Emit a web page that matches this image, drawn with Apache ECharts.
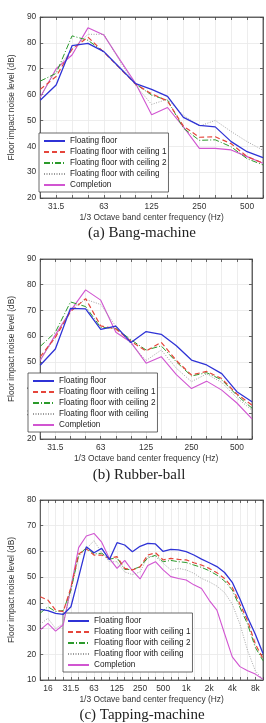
<!DOCTYPE html>
<html>
<head>
<meta charset="utf-8">
<script src="https://cdn.jsdelivr.net/npm/echarts@6/dist/echarts.min.js"></script>
<style>
html,body{margin:0;padding:0;background:#fff}
#chart{width:266px;height:723px}
</style>
</head>
<body>
<div id="chart"></div>
<script>
// 1/3 octave band centres
const bandsAB = ['25','31.5','40','50','63','80','100','125','160','200','250','315','400','500','630'];
const bandsC = ['12.5','16','20','25','31.5','40','50','63','80','100','125','160','200','250','315','400',
  '500','630','800','1k','1.25k','1.6k','2k','2.5k','3.15k','4k','5k','6.3k','8k','10k'];
const labelsAB = ['31.5','63','125','250','500'];
const labelsC = ['16','31.5','63','125','250','500','1k','2k','4k','8k'];
const names = ['Floating floor','Floating floor with ceiling 1','Floating floor with ceiling 2','Floating floor with ceiling','Completion'];
const captions = ['(a) Bang-machine','(b) Rubber-ball','(c) Tapping-machine'];

// (a) Bang-machine
const aFloor = [57.8, 63.7, 78.9, 79.8, 76.6, 70.4, 64.2, 62.0, 59.3, 51.2, 48.1, 47.5, 41.8, 37.9, 35.6];
const aCeil1 = [62.0, 67.0, 77.5, 82.2, 76.4, 70.2, 64.0, 60.3, 57.5, 47.8, 43.5, 43.7, 41.0, 36.0, 33.5];
const aCeil2 = [65.2, 68.2, 82.7, 81.0, 76.5, 70.3, 64.1, 59.8, 57.8, 47.0, 42.3, 42.5, 39.8, 35.2, 32.8];
const aCeil  = [59.0, 69.5, 77.5, 83.3, 83.3, 73.0, 63.5, 56.2, 58.2, 52.0, 47.8, 50.0, 45.7, 41.8, 38.5];
const aComp  = [59.0, 70.0, 75.3, 85.8, 83.0, 73.5, 64.3, 52.2, 55.0, 47.5, 39.2, 39.2, 38.6, 36.0, 33.4];

// (b) Rubber-ball
const bFloor = [48.7, 55.0, 70.8, 70.6, 62.6, 63.9, 57.5, 61.8, 60.7, 56.3, 50.7, 48.8, 45.4, 38.4, 34.5];
const bCeil1 = [52.0, 59.5, 69.5, 74.6, 64.0, 62.8, 58.0, 54.2, 57.6, 50.5, 44.9, 46.3, 43.5, 37.5, 33.2];
const bCeil2 = [56.0, 61.5, 73.3, 71.5, 63.4, 63.0, 58.6, 54.6, 56.2, 50.0, 44.5, 45.8, 43.0, 37.0, 32.0];
const bCeil  = [51.0, 59.5, 70.5, 74.3, 72.3, 63.8, 57.0, 50.5, 54.6, 47.5, 42.3, 45.3, 42.0, 36.0, 31.2];
const bComp  = [50.5, 60.5, 69.8, 78.0, 74.0, 61.5, 57.6, 49.5, 52.0, 45.0, 39.6, 42.5, 39.0, 34.0, 27.8];

// (c) Tapping-machine
const cFloor = [37.5, 37.0, 35.9, 35.5, 38.5, 50.0, 61.8, 59.5, 61.2, 56.8, 63.4, 62.5, 59.9, 62.0, 63.1,
  62.9, 60.0, 60.8, 60.6, 59.9, 58.6, 57.0, 55.6, 54.1, 51.8, 48.0, 41.5, 34.3, 27.8, 20.3];
const cCeil1 = [42.4, 41.1, 37.2, 36.6, 46.0, 59.0, 61.0, 58.6, 58.6, 57.3, 58.0, 53.4, 52.8, 54.0, 58.6,
  59.5, 56.7, 57.3, 56.9, 56.7, 55.6, 54.7, 53.4, 51.7, 49.5, 46.0, 39.5, 33.0, 24.0, 18.3];
const cCeil2 = [36.0, 38.5, 36.6, 37.0, 45.0, 58.5, 61.5, 59.0, 59.3, 57.0, 57.5, 53.0, 53.0, 54.0, 57.5,
  58.5, 56.0, 56.5, 56.0, 55.7, 54.7, 53.8, 52.5, 50.8, 48.5, 45.0, 38.2, 31.7, 22.7, 17.5];
const cCeil  = [31.7, 34.0, 30.0, 32.0, 45.0, 58.0, 61.0, 64.2, 59.5, 56.0, 56.0, 52.0, 51.0, 52.0, 58.0,
  58.0, 55.4, 52.8, 53.4, 52.8, 51.5, 49.5, 48.2, 46.5, 44.0, 39.5, 31.7, 21.4, 13.6, 10.0];
const cComp  = [29.5, 32.0, 29.0, 31.5, 46.0, 61.5, 66.0, 67.0, 63.6, 57.3, 53.4, 56.5, 52.5, 49.3, 54.5,
  56.0, 52.8, 50.2, 49.5, 48.9, 47.0, 45.6, 41.0, 37.2, 28.0, 19.0, 15.2, 13.6, 12.3, 10.3];

const styles = [
  {color:'#2f33d6', width:1.3, type:'solid'},
  {color:'#e5453b', width:1.2, type:[5,3]},
  {color:'#2b9a2b', width:1, type:[6,2,1,2]},
  {color:'#9a9a9a', width:0.9, type:[1,1.5]},
  {color:'#d155d1', width:1.1, type:'solid'}
];

const panels = [
  {grid:{left:33, top:17, width:230, height:181}, cats:bandsAB, shown:labelsAB, min:20, max:90,
   data:[aFloor,aCeil1,aCeil2,aCeil,aComp], legend:{left:39, top:133}, cap:[142,233], nameGap:16},
  {grid:{left:22, top:259, width:230, height:180}, cats:bandsAB, shown:labelsAB, min:20, max:90,
   data:[bFloor,bCeil1,bCeil2,bCeil,bComp], legend:{left:28, top:373}, cap:[139,475], nameGap:14},
  {grid:{left:33, top:500, width:230, height:180}, cats:bandsC, shown:labelsC, min:10, max:80,
   data:[cFloor,cCeil1,cCeil2,cCeil,cComp], legend:{left:63, top:613}, cap:[142,715], nameGap:16}
];

const font = 'Liberation Sans';
const axisCol = '#444';
const grids = [], xAxes = [], yAxes = [], series = [], legends = [], graphics = [];

panels.forEach((p, k) => {
  grids.push(Object.assign({show:true, borderColor:axisCol, borderWidth:0.8}, p.grid));
  const tick = {show:true, inside:true, length:3, interval:0, lineStyle:{color:axisCol, width:0.8}};
  xAxes.push({
    gridIndex:k, type:'category', data:p.cats, boundaryGap:false,
    name:'1/3 Octave band center frequency (Hz)', nameLocation:'middle', nameGap:16,
    nameTextStyle:{fontSize:8.4, fontFamily:font, color:'#333'},
    axisLine:{lineStyle:{color:axisCol, width:0.8}},
    axisTick:tick,
    axisLabel:{fontSize:8.4, fontFamily:font, color:'#333', margin:5,
      interval:(i, v) => p.shown.includes(v)},
    splitLine:{show:true, interval:0, lineStyle:{color:'#e8e8e8', width:0.8}}
  });
  xAxes.push({
    gridIndex:k, type:'category', data:p.cats, boundaryGap:false, position:'top',
    axisLine:{lineStyle:{color:axisCol, width:0.8}}, axisTick:tick,
    axisLabel:{show:false}, splitLine:{show:false}
  });
  yAxes.push({
    gridIndex:k, type:'value', min:p.min, max:p.max, interval:10,
    name:'Floor impact noise level (dB)', nameLocation:'middle', nameGap:p.nameGap,
    nameTextStyle:{fontSize:8.4, fontFamily:font, color:'#333'},
    axisLine:{show:true, lineStyle:{color:axisCol, width:0.8}},
    axisTick:{show:true, inside:true, length:3, lineStyle:{color:axisCol, width:0.8}},
    axisLabel:{fontSize:8.4, fontFamily:font, color:'#333', margin:4},
    splitLine:{show:true, lineStyle:{color:'#e8e8e8', width:0.8}}
  });
  yAxes.push({
    gridIndex:k, type:'value', min:p.min, max:p.max, interval:10, position:'right',
    axisLine:{show:true, lineStyle:{color:axisCol, width:0.8}},
    axisTick:{show:true, inside:true, length:3, lineStyle:{color:axisCol, width:0.8}},
    axisLabel:{show:false}, splitLine:{show:false}
  });
  p.data.forEach((d, j) => {
    series.push({
      name:names[j], type:'line', xAxisIndex:2*k, yAxisIndex:2*k, data:d,
      symbol:'none', animation:false, z:10 - j,
      lineStyle:{color:styles[j].color, width:styles[j].width, type:styles[j].type},
      itemStyle:{color:styles[j].color}
    });
  });
  legends.push({
    orient:'vertical', left:p.legend.left, top:p.legend.top, data:names,
    itemWidth:21, itemHeight:8, itemGap:1, padding:[3,2,2,4],
    borderColor:axisCol, borderWidth:0.8, backgroundColor:'#fff', borderRadius:0,
    textStyle:{fontSize:8.2, fontFamily:font, color:'#222', lineHeight:10},
    itemStyle:{opacity:0}, selectedMode:false
  });
  graphics.push({
    type:'text', x:p.cap[0], y:p.cap[1],
    style:{text:captions[k], x:0, y:0, fill:'#222', font:'15px "Liberation Serif"',
      textAlign:'center', textVerticalAlign:'middle', align:'center', verticalAlign:'middle'}
  });
});

const chart = echarts.init(document.getElementById('chart'), null, {renderer:'canvas'});
chart.setOption({
  animation:false,
  backgroundColor:'#fff',
  grid:grids, xAxis:xAxes, yAxis:yAxes, series:series, legend:legends,
  graphic:{elements:graphics}
});
</script>
</body>
</html>
